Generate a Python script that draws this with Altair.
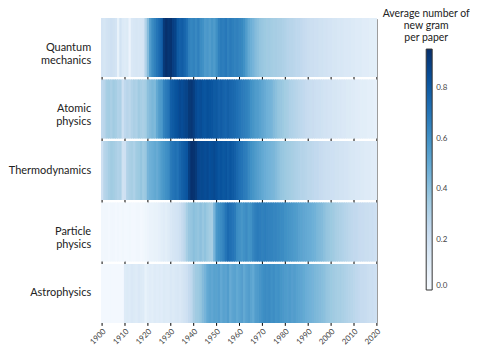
import altair as alt
import pandas as pd

years = list(range(1900, 2020))
topics = ["Quantum mechanics", "Atomic physics", "Thermodynamics", "Particle physics", "Astrophysics"]

quantum = [
    0.17, 0.16, 0.18, 0.19, 0.20, 0.19, 0.17, 0.07, 0.18, 0.13,
    0.12, 0.13, 0.05, 0.14, 0.15, 0.16, 0.15, 0.16, 0.17, 0.30,
    0.42, 0.55, 0.62, 0.66, 0.70, 0.74, 0.78, 0.92, 0.95, 0.93,
    0.94, 0.90, 0.88, 0.80, 0.78, 0.79, 0.76, 0.72, 0.66, 0.64,
    0.65, 0.63, 0.66, 0.62, 0.60, 0.56, 0.57, 0.55, 0.58, 0.56,
    0.60, 0.66, 0.68, 0.67, 0.69, 0.66, 0.68, 0.67, 0.65, 0.66,
    0.64, 0.63, 0.60, 0.55, 0.50, 0.47, 0.45, 0.42, 0.40, 0.38,
    0.37, 0.36, 0.35, 0.35, 0.34, 0.33, 0.33, 0.32, 0.32, 0.31,
    0.30, 0.29, 0.28, 0.28, 0.27, 0.26, 0.26, 0.25, 0.24, 0.23,
    0.22, 0.21, 0.21, 0.20, 0.20, 0.19, 0.19, 0.18, 0.18, 0.17,
    0.17, 0.16, 0.16, 0.15, 0.15, 0.15, 0.14, 0.14, 0.14, 0.13,
    0.13, 0.12, 0.12, 0.12, 0.11, 0.11, 0.11, 0.10, 0.10, 0.10,
]
atomic = [
    0.26, 0.28, 0.33, 0.34, 0.32, 0.35, 0.33, 0.30, 0.31, 0.20,
    0.26, 0.28, 0.27, 0.30, 0.32, 0.31, 0.35, 0.33, 0.32, 0.34,
    0.40, 0.42, 0.44, 0.43, 0.50, 0.55, 0.57, 0.65, 0.68, 0.70,
    0.78, 0.80, 0.82, 0.84, 0.86, 0.85, 0.87, 0.88, 0.92, 0.93,
    0.90, 0.86, 0.84, 0.85, 0.83, 0.82, 0.84, 0.83, 0.82, 0.80,
    0.80, 0.78, 0.79, 0.77, 0.76, 0.78, 0.76, 0.75, 0.74, 0.72,
    0.70, 0.68, 0.67, 0.66, 0.64, 0.60, 0.58, 0.56, 0.55, 0.53,
    0.51, 0.49, 0.47, 0.46, 0.45, 0.42, 0.40, 0.38, 0.37, 0.36,
    0.34, 0.33, 0.31, 0.30, 0.29, 0.28, 0.27, 0.26, 0.25, 0.24,
    0.23, 0.22, 0.22, 0.21, 0.20, 0.20, 0.19, 0.18, 0.18, 0.17,
    0.17, 0.16, 0.16, 0.15, 0.15, 0.14, 0.14, 0.13, 0.13, 0.12,
    0.12, 0.11, 0.11, 0.10, 0.10, 0.10, 0.09, 0.09, 0.09, 0.08,
]
thermo = [
    0.20, 0.28, 0.30, 0.33, 0.35, 0.34, 0.32, 0.30, 0.31, 0.19,
    0.20, 0.30, 0.32, 0.33, 0.31, 0.35, 0.36, 0.38, 0.35, 0.37,
    0.45, 0.47, 0.48, 0.50, 0.49, 0.52, 0.56, 0.58, 0.60, 0.62,
    0.68, 0.70, 0.72, 0.71, 0.75, 0.78, 0.80, 0.82, 0.90, 0.95,
    0.94, 0.92, 0.87, 0.86, 0.86, 0.85, 0.86, 0.84, 0.85, 0.86,
    0.84, 0.82, 0.83, 0.81, 0.82, 0.80, 0.82, 0.80, 0.78, 0.75,
    0.72, 0.70, 0.68, 0.67, 0.63, 0.60, 0.58, 0.56, 0.54, 0.52,
    0.50, 0.48, 0.47, 0.46, 0.45, 0.44, 0.42, 0.40, 0.38, 0.37,
    0.36, 0.35, 0.34, 0.33, 0.32, 0.31, 0.30, 0.29, 0.29, 0.28,
    0.27, 0.27, 0.26, 0.25, 0.25, 0.24, 0.23, 0.22, 0.21, 0.21,
    0.20, 0.20, 0.19, 0.19, 0.18, 0.18, 0.17, 0.17, 0.16, 0.15,
    0.15, 0.14, 0.14, 0.13, 0.13, 0.12, 0.12, 0.12, 0.11, 0.11,
]
particle = [
    0.03, 0.03, 0.03, 0.02, 0.03, 0.03, 0.02, 0.03, 0.02, 0.03,
    0.02, 0.02, 0.03, 0.02, 0.02, 0.03, 0.03, 0.02, 0.03, 0.04,
    0.05, 0.06, 0.06, 0.07, 0.07, 0.08, 0.10, 0.11, 0.10, 0.12,
    0.14, 0.16, 0.17, 0.18, 0.20, 0.24, 0.27, 0.33, 0.37, 0.38,
    0.40, 0.39, 0.38, 0.40, 0.37, 0.39, 0.36, 0.34, 0.33, 0.45,
    0.57, 0.60, 0.62, 0.65, 0.70, 0.74, 0.72, 0.70, 0.68, 0.62,
    0.60, 0.58, 0.60, 0.62, 0.59, 0.60, 0.64, 0.67, 0.68, 0.67,
    0.66, 0.67, 0.66, 0.65, 0.65, 0.64, 0.64, 0.63, 0.62, 0.62,
    0.60, 0.59, 0.58, 0.57, 0.56, 0.55, 0.53, 0.52, 0.51, 0.50,
    0.49, 0.48, 0.47, 0.46, 0.44, 0.43, 0.42, 0.40, 0.38, 0.37,
    0.36, 0.35, 0.33, 0.32, 0.31, 0.30, 0.29, 0.28, 0.27, 0.26,
    0.25, 0.25, 0.24, 0.23, 0.23, 0.22, 0.22, 0.21, 0.21, 0.20,
]
astro = [
    0.02, 0.02, 0.02, 0.02, 0.02, 0.02, 0.02, 0.02, 0.02, 0.02,
    0.12, 0.13, 0.12, 0.14, 0.13, 0.12, 0.14, 0.13, 0.12, 0.07,
    0.10, 0.11, 0.10, 0.12, 0.11, 0.12, 0.11, 0.13, 0.12, 0.12,
    0.14, 0.13, 0.14, 0.15, 0.14, 0.16, 0.18, 0.20, 0.24, 0.26,
    0.32, 0.35, 0.36, 0.38, 0.42, 0.45, 0.50, 0.52, 0.51, 0.53,
    0.52, 0.54, 0.50, 0.53, 0.52, 0.55, 0.49, 0.52, 0.53, 0.50,
    0.52, 0.54, 0.50, 0.53, 0.55, 0.52, 0.50, 0.55, 0.56, 0.58,
    0.60, 0.62, 0.61, 0.62, 0.60, 0.61, 0.59, 0.60, 0.58, 0.57,
    0.56, 0.55, 0.56, 0.54, 0.55, 0.53, 0.52, 0.51, 0.50, 0.48,
    0.47, 0.46, 0.45, 0.44, 0.43, 0.42, 0.41, 0.40, 0.38, 0.37,
    0.36, 0.35, 0.34, 0.33, 0.33, 0.32, 0.31, 0.30, 0.29, 0.28,
    0.27, 0.26, 0.25, 0.24, 0.24, 0.23, 0.22, 0.21, 0.21, 0.20,
]

decade_ticks = list(range(1900, 2021, 10))
legend_ticks = [0.0, 0.2, 0.4, 0.6, 0.8]
legend_title = ["Average number of", "new gram", "per paper"]

# matplotlib "Blues" colormap stops
blues = ["#f7fbff", "#deebf7", "#c6dbef", "#9ecae1", "#6baed6",
         "#4292c6", "#2171b5", "#08519c", "#08306b"]
vmax = 0.955
color_domain = [vmax * i / (len(blues) - 1) for i in range(len(blues))]

rows = []
for t, vals in zip(topics, [quantum, atomic, thermo, particle, astro]):
    for yr, v in zip(years, vals):
        rows.append({"topic": t, "year": yr, "year_end": yr + 1, "value": v})
df = pd.DataFrame(rows)

color_scale = alt.Scale(domain=color_domain, range=blues, interpolate="rgb")

chart = alt.Chart(df).mark_rect(
    stroke=alt.expr("scale('color', datum.value)"), strokeWidth=1.2
).encode(
    x=alt.X(
        "year:Q",
        scale=alt.Scale(domain=[1900, 2020], nice=False, zero=False),
        axis=alt.Axis(
            values=decade_ticks, format="d", labelAngle=-45, labelAlign="right",
            labelBaseline="top", grid=True, gridColor="black", gridWidth=1,
            gridOpacity=1, domain=False, tickSize=3, tickColor="black",
            labelFontSize=8, labelColor="#444", title=None, labelPadding=2,
        ),
    ),
    x2="year_end:Q",
    y=alt.Y(
        "topic:N", sort=topics,
        scale=alt.Scale(paddingInner=0.06, paddingOuter=0),
        axis=alt.Axis(
            title=None, ticks=False, domain=False,
            labelExpr="split(datum.label, ' ')", labelFontSize=11,
            labelLineHeight=13, labelColor="#222", labelPadding=11,
        ),
    ),
    color=alt.Color(
        "value:Q", scale=color_scale,
        legend=alt.Legend(
            type="gradient",
            title=legend_title, orient="none", legendX=282, legendY=-10,
            direction="vertical", gradientLength=242, gradientThickness=6,
            format=".1f", values=legend_ticks, titleFontSize=10.5,
            titleFontWeight="normal", titleAnchor="start", titleAlign="center",
            titleColor="#222", labelFontSize=8, labelColor="#444",
            gradientStrokeColor="#333", gradientStrokeWidth=1, titlePadding=6,
            labelOffset=4, padding=0, titleLineHeight=12,
        ),
    ),
).properties(
    width=276, height=305,
    padding={"left": 0, "top": 0, "right": 0, "bottom": 0},
).configure(font="Lato").configure_view(stroke=None)

chart.save("out.html", embed_options={"renderer": "svg", "actions": False})
